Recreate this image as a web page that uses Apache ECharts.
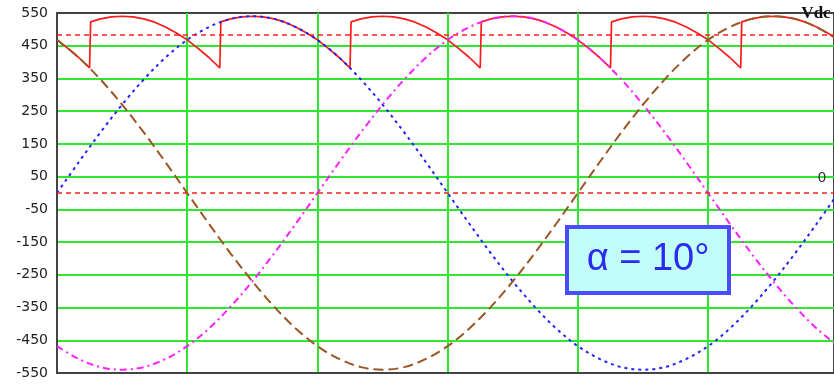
<!DOCTYPE html>
<html><head><meta charset="utf-8">
<script src="https://cdn.jsdelivr.net/npm/echarts@6/dist/echarts.min.js"></script>
<style>html,body{margin:0;padding:0;background:#fff}#c{width:834px;height:384px}</style>
</head><body><div id="c"></div>
<script>
// phase voltages, sampled every 10 degrees
const angles = [0,10,20,30,40,50,60,70,80,90,100,110,120,130,140,150,160,170,180,190,200,210,220,230,240,250,260,270,280,290,300,310,320,330,340,350,360];
const phaseA = [0,94,185,270,347,414,468,507,532,540,532,507,468,414,347,270,185,94,0,-94,-185,-270,-347,-414,-468,-507,-532,-540,-532,-507,-468,-414,-347,-270,-185,-94,0];
const phaseB = [-468,-507,-532,-540,-532,-507,-468,-414,-347,-270,-185,-94,0,94,185,270,347,414,468,507,532,540,532,507,468,414,347,270,185,94,0,-94,-185,-270,-347,-414,-468];
const phaseC = [468,414,347,270,185,94,0,-94,-185,-270,-347,-414,-468,-507,-532,-540,-532,-507,-468,-414,-347,-270,-185,-94,0,94,185,270,347,414,468,507,532,540,532,507,468];
// rectifier output
const outAngle = [0,5,10,15,15.5,
  15.5,20,25,30,35,40,45,50,55,60,65,70,75,75.5,
  75.5,80,85,90,95,100,105,110,115,120,125,130,135,135.5,
  135.5,140,145,150,155,160,165,170,175,180,185,190,195,195.5,
  195.5,200,205,210,215,220,225,230,235,240,245,250,255,255.5,
  255.5,260,265,270,275,280,285,290,295,300,305,310,315,315.5,
  315.5,320,325,330,335,340,345,350,355,360];
const outVolt = [468,442,414,382,378,
  523,532,538,540,538,532,522,507,489,468,442,414,382,378,
  523,532,538,540,538,532,522,507,489,468,442,414,382,378,
  523,532,538,540,538,532,522,507,489,468,442,414,382,378,
  523,532,538,540,538,532,522,507,489,468,442,414,382,378,
  523,532,538,540,538,532,522,507,489,468,442,414,382,378,
  523,532,538,540,538,532,522,507,489,468];
const refLevels = [483, 0];
const refLabels = ['Vdc', '0'];
const yMin = -550, yMax = 550, yStep = 100;
const xMin = 0, xMax = 358, xStep = 60;
const annotation = 'α = 10°';

const zip = (xs, ys) => xs.map((x, i) => [x, ys[i]]);
const chart = echarts.init(document.getElementById('c'), null, {renderer: 'canvas'});
const green = '#2ee82e';
chart.setOption({
  animation: false,
  backgroundColor: '#fff',
  grid: {left: 57, right: -2, top: 13, bottom: 11, show: true, borderColor: '#444', borderWidth: 2, backgroundColor: 'transparent'},
  xAxis: {
    type: 'value', min: xMin, max: xMax, interval: xStep,
    axisLabel: {show: false}, axisTick: {show: false},
    axisLine: {show: true, onZero: false, lineStyle: {color: '#444', width: 2}},
    splitLine: {show: true, showMinLine: false, showMaxLine: false, lineStyle: {color: green, width: 2}}
  },
  yAxis: {
    type: 'value', min: yMin, max: yMax, interval: yStep,
    axisTick: {show: false},
    axisLine: {show: true, onZero: false, lineStyle: {color: '#444', width: 2}},
    axisLabel: {color: '#222', fontFamily: 'DejaVu Sans', fontSize: 14, margin: 9},
    splitLine: {show: true, showMinLine: false, showMaxLine: false, lineStyle: {color: green, width: 2}}
  },
  series: [
    {
      type: 'line', data: zip(outAngle, outVolt), symbol: 'none', z: 2,
      lineStyle: {color: '#ff1a1a', width: 1.7},
      markLine: {
        silent: true, symbol: 'none', label: {show: false},
        lineStyle: {color: '#ff2020', type: [5, 4], width: 1.7},
        data: refLevels.map(v => ({yAxis: v}))
      }
    },
    {type: 'line', data: zip(angles, phaseA), symbol: 'none', smooth: 0.34, z: 3,
      lineStyle: {color: '#2323ff', width: 2, type: [3, 4]}},
    {type: 'line', data: zip(angles, phaseB), symbol: 'none', smooth: 0.34, z: 3,
      lineStyle: {color: '#ff20ff', width: 2, type: [7, 4, 2, 4]}},
    {type: 'line', data: zip(angles, phaseC), symbol: 'none', smooth: 0.34, z: 3,
      lineStyle: {color: '#9c5626', width: 2, type: [10, 5]}}
  ],
  graphic: [
    {type: 'rect', z: 100, shape: {x: 567, y: 227, width: 162, height: 66},
      style: {fill: '#c2fdf9', stroke: '#4b4bff', lineWidth: 4}},
    {type: 'text', z: 101, x: 648, y: 260,
      style: {text: annotation, fill: '#2b2bef', font: '38px "Liberation Sans", Arial, sans-serif', align: 'center', verticalAlign: 'middle'}},
    {type: 'text', z: 101, x: 816, y: 14,
      style: {text: refLabels[0], fill: '#111', font: 'bold 17px "Liberation Serif", serif', align: 'center', verticalAlign: 'middle'}},
    {type: 'text', z: 101, x: 822, y: 178,
      style: {text: refLabels[1], fill: '#333', font: '14px "DejaVu Sans", sans-serif', align: 'center', verticalAlign: 'middle'}}
  ]
});
</script></body></html>
